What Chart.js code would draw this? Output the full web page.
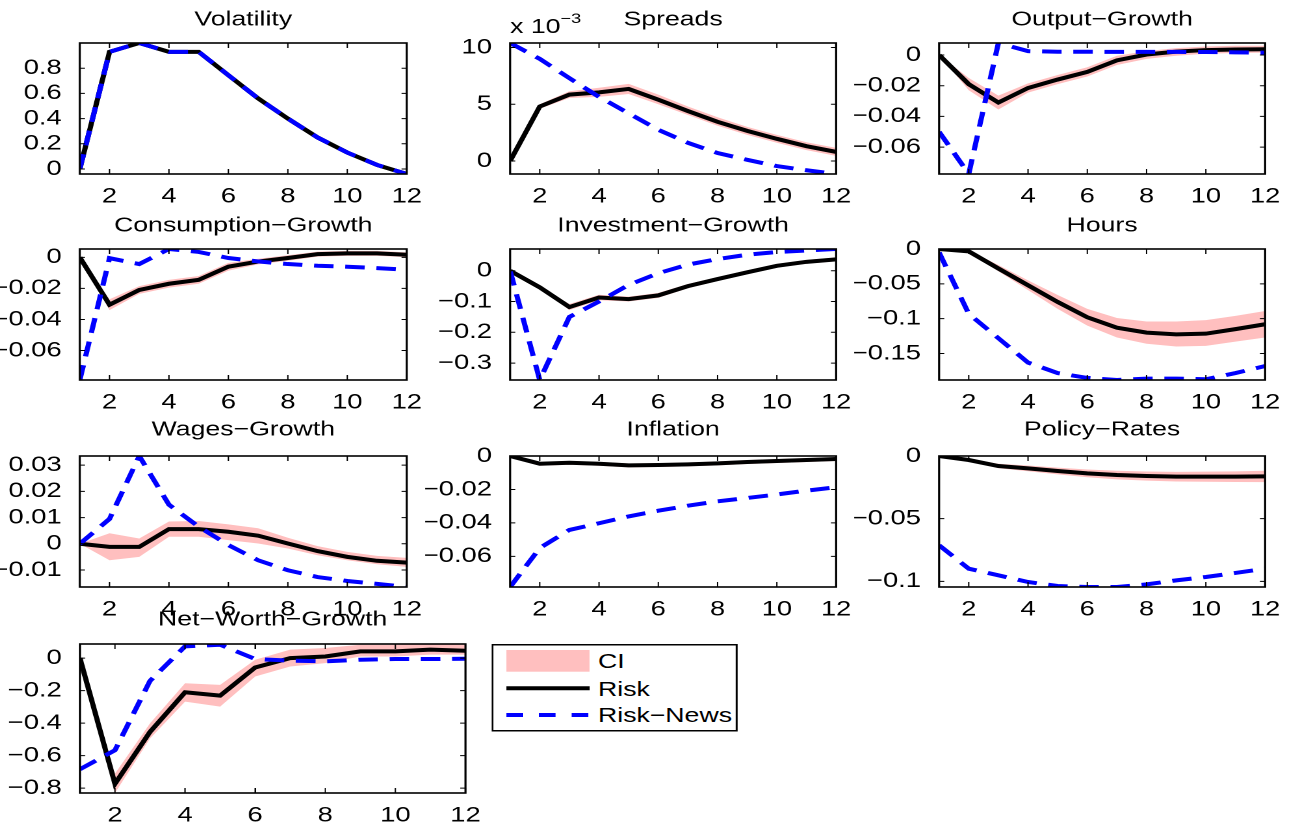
<!DOCTYPE html>
<html>
<head>
<meta charset="utf-8">
<script src="https://cdn.jsdelivr.net/npm/chart.js@4.4.1/dist/chart.umd.min.js"></script>
<style>
  html, body { margin: 0; padding: 0; background: #fff; overflow: hidden; }
  /* the figure is drawn narrow and stretched sideways, like the reference */
  #fig { position: relative; width: 996.15px; height: 822px; transform: scaleX(1.3); transform-origin: 0 0; }
  .panel { position: absolute; }
  #legend { position: absolute; left: 378.2px; top: 644px; }
</style>
</head>
<body>
<div id="fig"></div>
<script>
// ---- data ----
const periods = [1, 2, 3, 4, 5, 6, 7, 8, 9, 10, 11, 12];
const xTicks = [2, 4, 6, 8, 10, 12];

const volRisk = [0, 0.93, 1.0, 0.93, 0.93, 0.744, 0.56, 0.40, 0.25, 0.13, 0.032, -0.04];
const volNews = [0, 0.93, 1.0, 0.93, 0.93, 0.744, 0.56, 0.40, 0.25, 0.13, 0.032, -0.04];
const volTicks = [0, 0.2, 0.4, 0.6, 0.8];

// spreads in units of 10^-3
const spreadsRisk = [0, 4.8, 5.85, 6.05, 6.35, 5.4, 4.4, 3.45, 2.65, 1.95, 1.3, 0.8];
const spreadsLo = [0, 4.6, 5.55, 5.65, 5.9, 5.0, 4.05, 3.1, 2.3, 1.6, 0.95, 0.45];
const spreadsHi = [0, 5.0, 6.15, 6.45, 6.8, 5.85, 4.8, 3.85, 3.0, 2.3, 1.65, 1.15];
const spreadsNews = [10.4, 9.0, 7.3, 5.65, 4.2, 2.75, 1.6, 0.7, 0.1, -0.45, -0.82, -1.15];
const spreadsTicks = [0, 5, 10];

const outRisk = [0, -0.019, -0.031, -0.0215, -0.016, -0.011, -0.0035, 0.0003, 0.0022, 0.0032, 0.0036, 0.0037];
const outLo = [0, -0.023, -0.0355, -0.0245, -0.019, -0.014, -0.0065, -0.0025, -0.0005, 0.0008, 0.0013, 0.0015];
const outHi = [0, -0.015, -0.0265, -0.0185, -0.013, -0.008, -0.0005, 0.0025, 0.0045, 0.0055, 0.006, 0.006];
const outNews = [-0.05, -0.0775, 0.0078, 0.0025, 0.0021, 0.0021, 0.002, 0.002, 0.002, 0.0019, 0.0017, 0.0015];
const outTicks = [-0.06, -0.04, -0.02, 0];

const consRisk = [0, -0.0305, -0.021, -0.017, -0.0145, -0.006, -0.0027, -0.0004, 0.0021, 0.0026, 0.0026, 0.0017];
const consLo = [0, -0.034, -0.0235, -0.0195, -0.017, -0.0085, -0.0045, -0.0022, 0.0005, 0.001, 0.001, 0.0002];
const consHi = [0, -0.027, -0.0185, -0.0145, -0.012, -0.0035, -0.0009, 0.0014, 0.0037, 0.0042, 0.0042, 0.0032];
const consNews = [-0.079, -0.0005, -0.0043, 0.0054, 0.0035, -0.0004, -0.0026, -0.0043, -0.0054, -0.006, -0.0069, -0.008];
const consTicks = [-0.06, -0.04, -0.02, 0];

const invRisk = [0, -0.054, -0.118, -0.087, -0.092, -0.08, -0.05, -0.027, -0.005, 0.016, 0.029, 0.037];
const invLo = [0, -0.058, -0.128, -0.096, -0.1, -0.088, -0.057, -0.033, -0.011, 0.01, 0.023, 0.031];
const invHi = [0, -0.05, -0.108, -0.078, -0.084, -0.072, -0.043, -0.021, 0.001, 0.022, 0.035, 0.043];
const invNews = [0, -0.355, -0.15, -0.1, -0.046, -0.008, 0.02, 0.038, 0.052, 0.061, 0.066, 0.0707];
const invTicks = [-0.3, -0.2, -0.1, 0];

const hoursRisk = [0, -0.0034, -0.028, -0.052, -0.076, -0.098, -0.113, -0.12, -0.1225, -0.1215, -0.115, -0.108];
const hoursLo = [0, -0.005, -0.032, -0.059, -0.086, -0.11, -0.127, -0.136, -0.14, -0.139, -0.133, -0.127];
const hoursHi = [0, -0.002, -0.023, -0.045, -0.066, -0.086, -0.099, -0.104, -0.104, -0.102, -0.096, -0.089];
const hoursNews = [-0.005, -0.093, -0.128, -0.163, -0.178, -0.185, -0.188, -0.186, -0.186, -0.187, -0.178, -0.168];
const hoursTicks = [-0.15, -0.1, -0.05, 0];

const wagesRisk = [0, -0.0012, -0.0012, 0.0056, 0.0056, 0.0046, 0.0031, 0.0001, -0.0028, -0.005, -0.0065, -0.0072];
const wagesLo = [0, -0.0063, -0.005, 0.0027, 0.0027, 0.0014, 0.0001, -0.0018, -0.0044, -0.0063, -0.0078, -0.0088];
const wagesHi = [0, 0.004, 0.002, 0.0085, 0.0087, 0.0074, 0.0059, 0.0023, -0.0009, -0.0031, -0.0046, -0.0054];
const wagesNews = [0, 0.0095, 0.0335, 0.0149, 0.0065, -0.0005, -0.0063, -0.0101, -0.0127, -0.0142, -0.0153, -0.0165];
const wagesTicks = [-0.01, 0, 0.01, 0.02, 0.03];

const inflRisk = [0, -0.0046, -0.004, -0.0046, -0.0056, -0.0054, -0.005, -0.0044, -0.0036, -0.003, -0.0024, -0.0018];
const inflLo = [0, -0.0058, -0.0052, -0.0058, -0.0068, -0.0066, -0.0062, -0.0056, -0.0048, -0.0042, -0.0036, -0.003];
const inflHi = [0, -0.0036, -0.003, -0.0036, -0.0045, -0.0043, -0.0039, -0.0033, -0.0025, -0.0019, -0.0013, -0.0008];
const inflNews = [-0.0783, -0.055, -0.0442, -0.0402, -0.0361, -0.0327, -0.0297, -0.0271, -0.0251, -0.023, -0.0207, -0.0187];
const inflTicks = [-0.06, -0.04, -0.02, 0];

const polRisk = [0, -0.0032, -0.008, -0.0099, -0.012, -0.0139, -0.0152, -0.016, -0.0165, -0.0165, -0.0165, -0.0163];
const polLo = [0, -0.0042, -0.0098, -0.0122, -0.0147, -0.017, -0.0186, -0.0196, -0.0203, -0.0205, -0.0207, -0.0208];
const polHi = [0, -0.0022, -0.0062, -0.0076, -0.0093, -0.0108, -0.0118, -0.0124, -0.0127, -0.0125, -0.0123, -0.0118];
const polNews = [-0.0712, -0.0899, -0.0952, -0.1005, -0.1037, -0.1045, -0.1045, -0.1024, -0.0992, -0.0965, -0.0933, -0.0899];
const polTicks = [-0.1, -0.05, 0];

const nwRisk = [0, -0.773, -0.454, -0.21, -0.231, -0.058, 0, 0.01, 0.041, 0.041, 0.052, 0.045];
const nwLo = [0, -0.83, -0.495, -0.268, -0.299, -0.113, -0.052, -0.031, 0.01, 0.01, 0.021, 0.021];
const nwHi = [0, -0.711, -0.402, -0.155, -0.165, -0.01, 0.052, 0.062, 0.082, 0.082, 0.0866, 0.082];
const nwNews = [-0.684, -0.567, -0.14, 0.072, 0.082, -0.006, -0.016, -0.02, -0.01, -0.006, -0.006, -0.004];
const nwTicks = [-0.8, -0.6, -0.4, -0.2, 0];

// ---- layout (in reference pixels, x gets divided by SX) ----
const SX = 1.3;
const FONT = 'Liberation Sans, Arial, Helvetica, sans-serif';
const BLUE = '#0000ff';
const PINK = 'rgb(255,191,191)';
const colLeft = [80, 510, 939];
const rowTop = [43, 249, 456, 644];
const rowH = [131, 131, 131, 149];
const titleGap = [23, 23, 26, 24];
const PAD_L = 85, PAD_R = 25, PAD_T = 45, PAD_B = 46;

const panels = [
  { title: 'Volatility', risk: volRisk, news: volNews, ticks: volTicks, col: 0, row: 0, w: 327 },
  { title: 'Spreads', risk: spreadsRisk, news: spreadsNews, lo: spreadsLo, hi: spreadsHi, ticks: spreadsTicks, col: 1, row: 0, w: 326, exponent: '\u22123' },
  { title: 'Output\u2212Growth', risk: outRisk, news: outNews, lo: outLo, hi: outHi, ticks: outTicks, col: 2, row: 0, w: 326 },
  { title: 'Consumption\u2212Growth', risk: consRisk, news: consNews, lo: consLo, hi: consHi, ticks: consTicks, col: 0, row: 1, w: 327 },
  { title: 'Investment\u2212Growth', risk: invRisk, news: invNews, lo: invLo, hi: invHi, ticks: invTicks, col: 1, row: 1, w: 326 },
  { title: 'Hours', risk: hoursRisk, news: hoursNews, lo: hoursLo, hi: hoursHi, ticks: hoursTicks, col: 2, row: 1, w: 326 },
  { title: 'Wages\u2212Growth', risk: wagesRisk, news: wagesNews, lo: wagesLo, hi: wagesHi, ticks: wagesTicks, col: 0, row: 2, w: 327 },
  { title: 'Inflation', risk: inflRisk, news: inflNews, lo: inflLo, hi: inflHi, ticks: inflTicks, col: 1, row: 2, w: 326 },
  { title: 'Policy\u2212Rates', risk: polRisk, news: polNews, lo: polLo, hi: polHi, ticks: polTicks, col: 2, row: 2, w: 326 },
  { title: 'Net\u2212Worth\u2212Growth', risk: nwRisk, news: nwNews, lo: nwLo, hi: nwHi, ticks: nwTicks, col: 0, row: 3, w: 385 }
];

const fmt = v => (v < 0 ? '\u2212' : '') + String(Math.abs(v));
const pts = arr => periods.map((x, i) => ({ x, y: arr[i] }));

// box around the axes with inward ticks on all four sides, plus exponent label
const axesBox = {
  id: 'axesBox',
  afterDraw(chart, args, opts) {
    const { ctx, chartArea: a, scales } = chart;
    ctx.save();
    ctx.strokeStyle = '#000';
    ctx.lineWidth = 1;
    ctx.beginPath();
    scales.x.ticks.forEach(t => {
      const px = scales.x.getPixelForValue(t.value);
      ctx.moveTo(px, a.bottom); ctx.lineTo(px, a.bottom - 5);
      ctx.moveTo(px, a.top); ctx.lineTo(px, a.top + 5);
    });
    scales.y.ticks.forEach(t => {
      const py = scales.y.getPixelForValue(t.value);
      ctx.moveTo(a.left, py); ctx.lineTo(a.left + 4, py);
      ctx.moveTo(a.right, py); ctx.lineTo(a.right - 4, py);
    });
    ctx.stroke();
    ctx.lineWidth = 1.6;
    ctx.strokeRect(a.left, a.top, a.right - a.left, a.bottom - a.top);
    if (opts.exponent) {
      ctx.fillStyle = '#000';
      ctx.textBaseline = 'alphabetic';
      ctx.font = '20.5px ' + FONT;
      ctx.fillText('x 10', a.left, a.top - 10);
      const w = ctx.measureText('x 10').width;
      ctx.font = '14px ' + FONT;
      ctx.fillText(opts.exponent, a.left + w, a.top - 20);
    }
    ctx.restore();
  }
};

const fig = document.getElementById('fig');

function makePanel(p) {
  const h = rowH[p.row];
  const wrap = document.createElement('div');
  wrap.className = 'panel';
  wrap.style.left = (colLeft[p.col] - PAD_L) / SX + 'px';
  wrap.style.top = (rowTop[p.row] - PAD_T) + 'px';
  wrap.style.width = (p.w + PAD_L + PAD_R) / SX + 'px';
  wrap.style.height = (h + PAD_T + PAD_B) + 'px';
  const canvas = document.createElement('canvas');
  wrap.appendChild(canvas);
  fig.appendChild(wrap);

  const all = [p.risk, p.news, p.lo || [], p.hi || []].flat();
  const yMin = Math.min(...all);
  const yMax = Math.max(...all);

  const datasets = [
    { data: pts(p.news), borderColor: BLUE, borderWidth: 4, borderDash: [15, 9], pointRadius: 0, tension: 0, fill: false, clip: 0 },
    { data: pts(p.risk), borderColor: '#000', borderWidth: 4, pointRadius: 0, tension: 0, fill: false, clip: 0 }
  ];
  if (p.lo) {
    datasets.push({ data: pts(p.lo), borderWidth: 0, borderColor: 'transparent', pointRadius: 0, fill: false, clip: 0 });
    datasets.push({ data: pts(p.hi), borderWidth: 0, borderColor: 'transparent', backgroundColor: PINK, pointRadius: 0, fill: '-1', clip: 0 });
  }
  const gap = titleGap[p.row];

  new Chart(canvas, {
    type: 'line',
    data: { datasets },
    options: {
      animation: false,
      responsive: true,
      maintainAspectRatio: false,
      devicePixelRatio: 2,
      layout: { padding: { right: PAD_R / SX } },
      plugins: {
        legend: { display: false },
        tooltip: { enabled: false },
        title: {
          display: true, text: p.title, fullSize: false, color: '#000',
          font: { family: FONT, size: 20.5, weight: 'normal', lineHeight: 1 },
          padding: { top: PAD_T - gap - 10.25, bottom: gap - 10.25 }
        },
        axesBox: { exponent: p.exponent }
      },
      scales: {
        x: {
          type: 'linear', min: 1, max: 12,
          grid: { display: false }, border: { display: false },
          ticks: { color: '#000', padding: 2, maxRotation: 0, font: { family: FONT, size: 21, lineHeight: 1.2 }, callback: v => String(v) },
          afterBuildTicks: s => { s.ticks = xTicks.map(v => ({ value: v })); },
          afterFit: s => { s.height = PAD_B; s.paddingLeft = 0; s.paddingRight = 0; }
        },
        y: {
          min: yMin, max: yMax,
          grid: { display: false }, border: { display: false },
          ticks: { color: '#000', padding: 6, font: { family: FONT, size: 21 }, callback: v => fmt(v) },
          afterBuildTicks: s => { s.ticks = p.ticks.map(v => ({ value: v })); },
          afterFit: s => { s.width = PAD_L / SX; s.paddingTop = 0; s.paddingBottom = 0; }
        }
      }
    },
    plugins: [axesBox]
  });
}

panels.forEach(makePanel);

// legend
const legendItems = ['CI', 'Risk', 'Risk\u2212News'];
const lg = document.createElement('div');
lg.id = 'legend';
lg.innerHTML =
  '<svg width="190" height="88" xmlns="http://www.w3.org/2000/svg">' +
  '<rect x="0.75" y="0.75" width="188" height="86" fill="#fff" stroke="#000" stroke-width="1.5"/>' +
  '<rect x="11.5" y="6" width="64" height="21.7" fill="' + PINK + '"/>' +
  '<line x1="11.5" y1="44.3" x2="75.6" y2="44.3" stroke="#000" stroke-width="4"/>' +
  '<line x1="11.5" y1="71" x2="75.6" y2="71" stroke="' + BLUE + '" stroke-width="4" stroke-dasharray="12.8 12.3"/>' +
  legendItems.map((t, i) =>
    '<text x="82" y="' + [17, 44.5, 71][i] + '" dominant-baseline="central" font-family="' + FONT + '" font-size="20.5" fill="#000">' + t + '</text>'
  ).join('') +
  '</svg>';
fig.appendChild(lg);
</script>
</body>
</html>
